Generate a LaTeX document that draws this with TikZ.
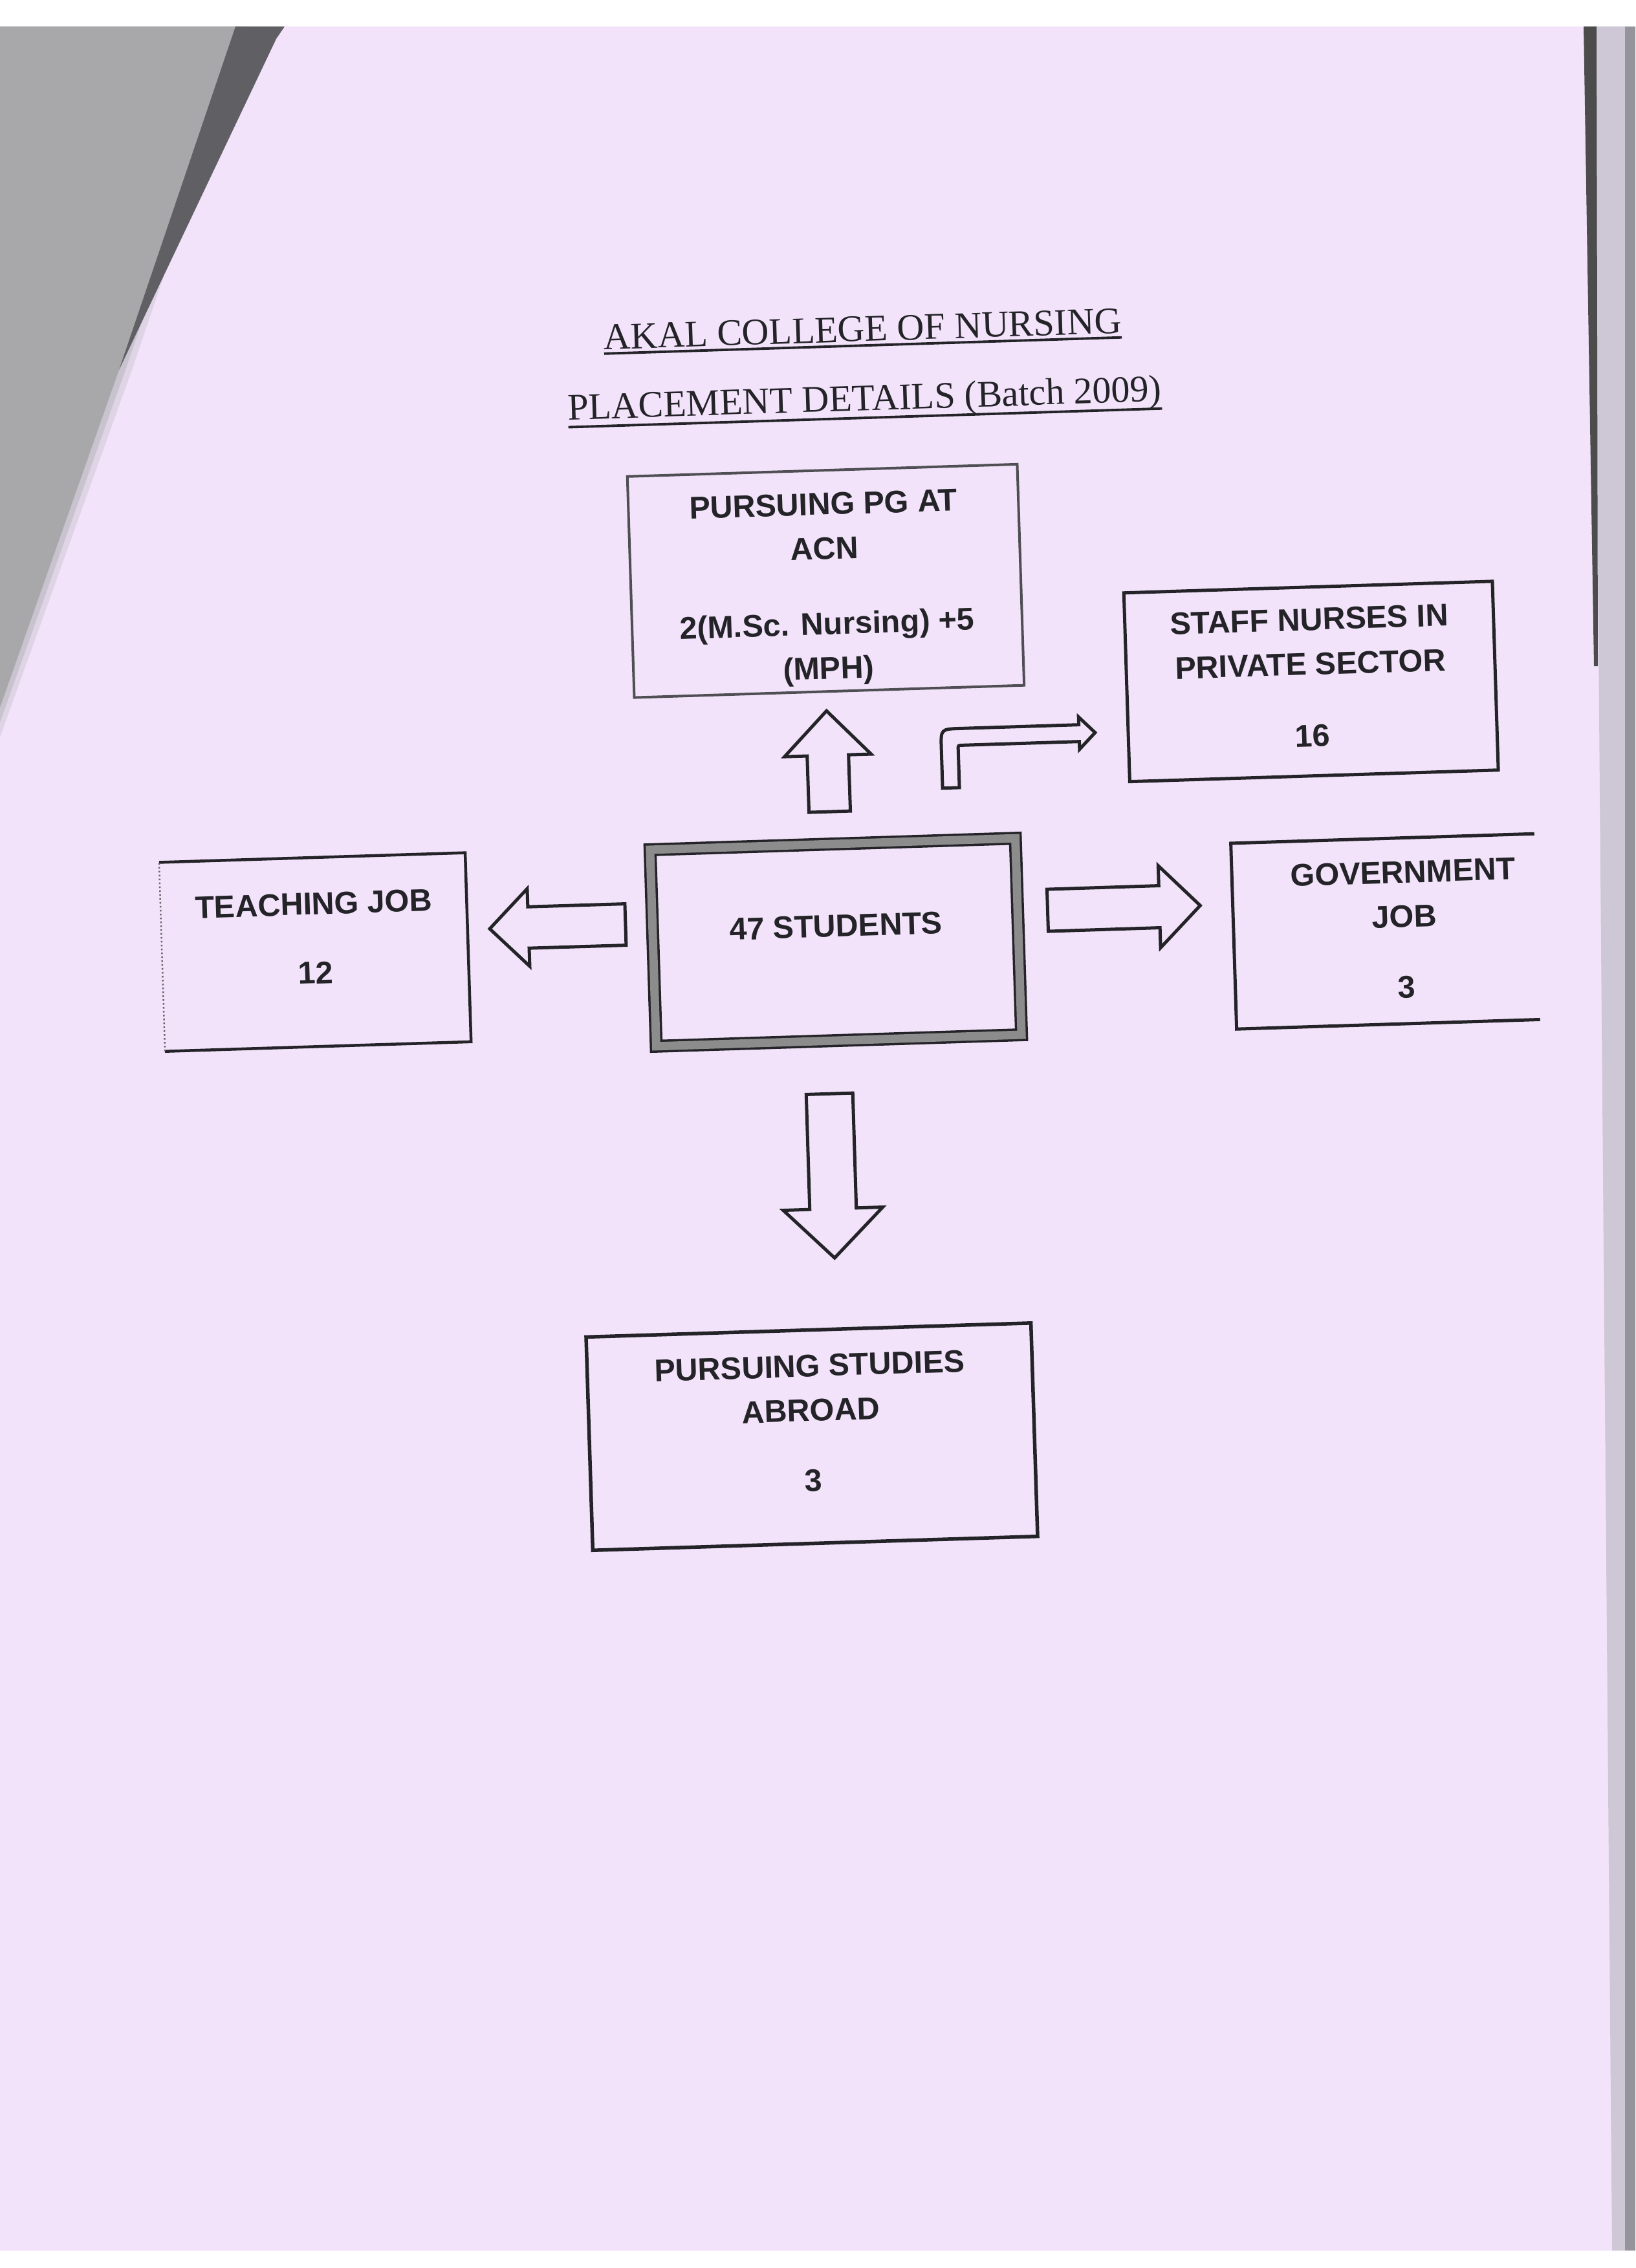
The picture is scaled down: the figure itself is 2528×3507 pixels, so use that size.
\documentclass[tikz,border=0pt]{standalone}
\usepackage{fontspec}
\setmainfont{Liberation Serif}
\newfontfamily\boxfont{Liberation Sans}
\usetikzlibrary{calc}
\definecolor{paper}{RGB}{242,227,250}
\definecolor{scangray}{RGB}{168,168,171}
\definecolor{folddark}{RGB}{95,95,100}
\definecolor{edgegray}{RGB}{206,199,214}
\definecolor{edgedark}{RGB}{150,148,155}
\definecolor{ink}{RGB}{35,35,40}
\tikzset{
  boxline/.style={draw=ink, line width=0.5mm, inner sep=0pt},
  plainbox/.style={inner sep=0pt},
  boxtext/.style={font=\boxfont\bfseries\fontsize{13.8}{19.6}\selectfont, text=ink, align=center, inner sep=0pt},
  titletext/.style={font=\fontsize{16.5}{20}\selectfont, text=ink, inner sep=0pt, anchor=base},
  blockarrow/.style={draw=ink, line width=0.5mm, line join=miter, fill=paper},
}
\newsavebox{\ulbox}
% #1 depth of rule top below baseline, #2 text
\newcommand{\myul}[2]{\sbox{\ulbox}{#2}\rlap{\vrule width \wd\ulbox height -#1 depth \dimexpr #1+1.1pt\relax}\usebox{\ulbox}}
% #1 tail, #2 tip, #3 shaft half width, #4 head half width, #5 head length
\newcommand{\blockarr}[5]{%
  \coordinate (#2-hb) at ($(#2)!#5!(#1)$);
  \draw[blockarrow] ($(#1)!#3!90:(#2)$) -- ($(#2-hb)!#3!90:(#2)$) -- ($(#2-hb)!#4!90:(#2)$)
    -- (#2) -- ($(#2-hb)!#4!-90:(#2)$) -- ($(#2-hb)!#3!-90:(#2)$) -- ($(#1)!#3!-90:(#2)$) -- cycle;
}
\begin{document}
\begin{tikzpicture}[x=0.1mm,y=-0.1mm]
\useasboundingbox (0,0) rectangle (2528,3507);
% scanned page background
\fill[white] (0,0) rectangle (2528,3507);
\fill[paper] (0,41) rectangle (2528,3480);
% soft edge of the folded-over corner
\fill[scangray!25!paper] (0,41) -- (384,41) -- (204,572) -- (0,1140) -- cycle;
\fill[scangray!55!paper] (0,41) -- (374,41) -- (194,572) -- (0,1117) -- cycle;
\fill[scangray] (0,41) -- (364,41) -- (184,572) -- (0,1094) -- cycle;
\fill[folddark] (364,41) -- (440,41) -- (427,60) -- (184,572) -- cycle;
\fill[edgegray] (2463,41) -- (2528,41) -- (2528,3480) -- (2492,3480) -- cycle;
\fill[edgedark] (2512,41) rectangle (2528,3480);
\fill[black!70] (2448,41) -- (2468,41) -- (2470,1030) -- (2464,1030) -- cycle;

\begin{scope}[rotate around={1.8:(1292,1457)}, transform shape]
% titles
\node[titletext] (title1) at (1363,529.5) {\myul{1.3pt}{AKAL COLLEGE OF NURSING}};
\node[titletext] (title2) at (1363,636.5) {\myul{2.7pt}{PLACEMENT DETAILS (Batch 2009)}};

% boxes
\node[plainbox, minimum width=56.5mm, minimum height=30.4mm, draw=ink, line width=0.35mm,
      double=black!45, double distance=1.3mm] (students) at (1292,1457) {};
\node[boxline, draw=ink!80, line width=0.4mm, minimum width=60.3mm, minimum height=34.2mm] (pg) at (1294,898) {};
\node[boxline, minimum width=57.0mm, minimum height=29.2mm] (staff) at (2039,1077) {};
\node[boxline, minimum width=68.8mm, minimum height=33.0mm, line width=0.55mm] (abroad) at (1231,2220) {};
\node[plainbox, minimum width=47.2mm, minimum height=29.1mm] (teach) at (487,1447) {};
\draw[draw=ink, line width=0.45mm] (teach.north west) -- (teach.north east) -- (teach.south east) -- (teach.south west);
\draw[draw=ink!70, line width=0.25mm, densely dotted] (teach.south west) -- (teach.north west);
\node[plainbox, minimum width=46.8mm, minimum height=28.6mm] (gov) at (2142,1467) {};
\draw[draw=ink, line width=0.5mm] (gov.north east) -- (gov.north west) -- (gov.south west) -- (gov.south east);

% texts
\node[boxtext] (t47) at (1293,1432) {47 STUDENTS};
\node[boxtext] (pgtext) at (1294,911) {PURSUING PG AT\\ACN\\[4.75mm]2(M.Sc. Nursing) +5\\(MPH)};
\node[boxtext] (stafftext) at (2039,1071) {STAFF NURSES IN\\PRIVATE SECTOR\\[4.2mm]16};
\node[boxtext] (govtext) at (2172,1465) {GOVERNMENT\\JOB\\[4mm]3};
\node[boxtext] (teachtext) at (487,1425.5) {TEACHING JOB\\[3.8mm]12};
\node[boxtext] (abroadtext) at (1231,2199.5) {PURSUING STUDIES\\ABROAD\\[4mm]3};

% block arrows
\coordinate (upS) at (1289,1255);   \coordinate (upT) at (1289,1099);
\coordinate (leftS) at (968,1419.5); \coordinate (leftT) at (758,1419.5);
\coordinate (rightS) at (1621,1418); \coordinate (rightT) at (1857,1418);
\coordinate (downS) at (1275,1691); \coordinate (downT) at (1275,1945);
\blockarr{upS}{upT}{3.2mm}{6.7mm}{6.9mm}
\blockarr{leftS}{leftT}{3.2mm}{6.0mm}{6.0mm}
\blockarr{rightS}{rightT}{3.25mm}{6.35mm}{6.3mm}
\blockarr{downS}{downT}{3.6mm}{7.7mm}{7.6mm}

% bent arrow towards private sector
\coordinate (bentS) at (1477.5,1224);
\coordinate (bentT) at (1703,1145.6);
\draw[blockarrow] (1464.5,1224) -- (1464.5,1162.6) .. controls (1464.5,1132.6) .. (1494.5,1132.6)
  -- (1678,1132.6) -- (1678,1120.6) -- (bentT) -- (1678,1170.6) -- (1678,1158.6)
  -- (1497,1158.6) .. controls (1490.5,1158.6) .. (1490.5,1165) -- (1490.5,1224) -- cycle;
\end{scope}
\end{tikzpicture}
\end{document}
